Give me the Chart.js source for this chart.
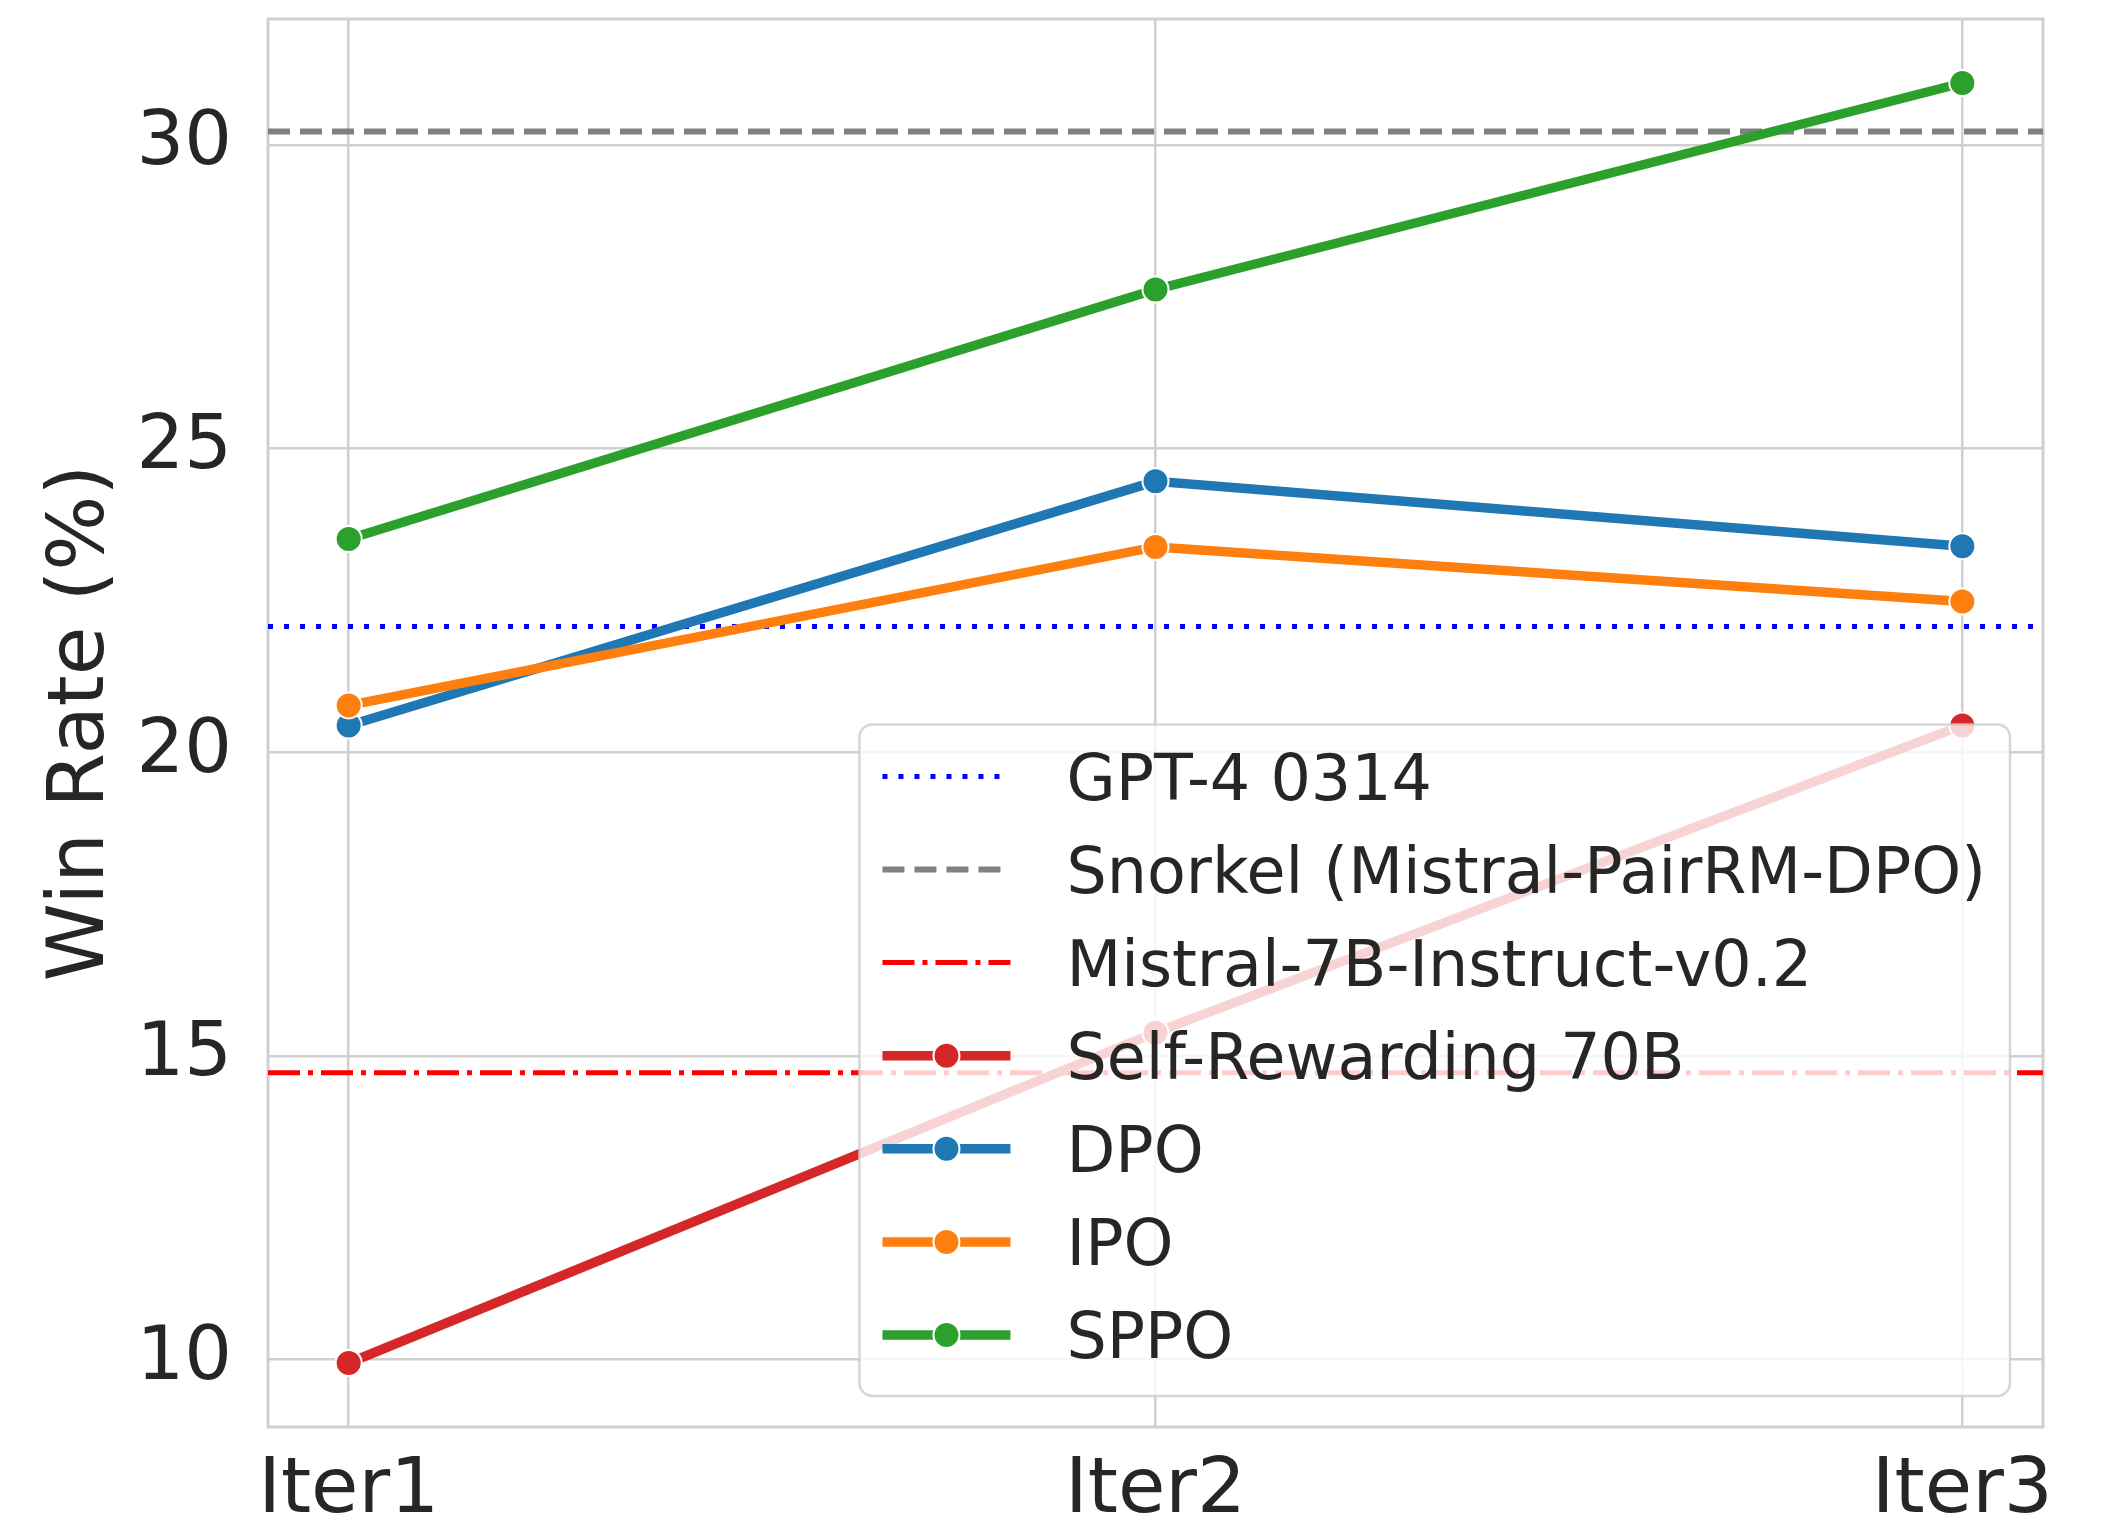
<!DOCTYPE html>
<html>
<head>
<meta charset="utf-8">
<title>Win Rate by Iteration</title>
<script src="https://cdn.jsdelivr.net/npm/chart.js@4.4.1/dist/chart.umd.min.js"></script>
<style>
  html, body { margin: 0; padding: 0; background: #ffffff; }
  canvas { display: block; }
</style>
</head>
<body>
<canvas id="chart" width="2105" height="1524"></canvas>
<script>
// ---- data ----
const categories = ['Iter1', 'Iter2', 'Iter3'];
const seriesNames = ['Self-Rewarding 70B', 'DPO', 'IPO', 'SPPO'];
const selfRewarding = [9.94, 15.38, 20.44];
const dpo = [20.44, 24.46, 23.39];
const ipo = [20.77, 23.38, 22.48];
const sppo = [23.51, 27.62, 31.02];
const baselineNames = ['GPT-4 0314', 'Snorkel (Mistral-PairRM-DPO)', 'Mistral-7B-Instruct-v0.2'];
const baselineValues = [22.07, 30.22, 14.72];
const yTickValues = [10, 15, 20, 25, 30];
const yAxisTitle = 'Win Rate (%)';

// ---- styles ----
const FONT = "'DejaVu Sans', 'Liberation Sans', sans-serif";
const TEXT = '#262626';
const GRID = '#cfcfcf';
const seriesColors = ['#d62728', '#1f77b4', '#ff7f0e', '#2ca02c'];
const baselineStyles = [
  { color: '#0000ff', width: 5, dash: [5, 11] },
  { color: '#808080', width: 6, dash: [22, 10] },
  { color: '#ff0000', width: 5, dash: [32, 8, 5, 8] }
];
const LINE_W = 9.5;
const POINT_R = 13;

const seriesValues = [selfRewarding, dpo, ipo, sppo];

// y range: data extent with a 5% margin on each side
const allValues = seriesValues.flat().concat(baselineValues);
const yLo = Math.min(...allValues), yHi = Math.max(...allValues);
const yPad = (yHi - yLo) * 0.05;
const xPad = (categories.length - 1) * 0.05;

const datasets = seriesNames.map((name, k) => ({
  label: name,
  data: categories.map((c, i) => ({ x: i, y: seriesValues[k][i] })),
  borderColor: seriesColors[k],
  backgroundColor: seriesColors[k],
  pointBackgroundColor: seriesColors[k],
  pointBorderColor: '#ffffff',
  pointBorderWidth: 2,
  pointRadius: POINT_R,
  borderWidth: LINE_W,
  borderCapStyle: 'butt',
  tension: 0,
  order: seriesNames.length - k
}));

// frame and horizontal reference lines, under the series
const referencePlugin = {
  id: 'referenceLines',
  beforeDatasetsDraw(chart) {
    const { ctx, chartArea: a, scales: { y } } = chart;
    ctx.save();
    ctx.strokeStyle = GRID;
    ctx.lineWidth = 3;
    ctx.strokeRect(a.left, a.top, a.right - a.left, a.bottom - a.top);
    baselineValues.forEach((v, k) => {
      const s = baselineStyles[k];
      const py = y.getPixelForValue(v);
      ctx.beginPath();
      ctx.strokeStyle = s.color;
      ctx.lineWidth = s.width;
      ctx.setLineDash(s.dash);
      ctx.lineCap = 'butt';
      ctx.moveTo(a.left, py);
      ctx.lineTo(a.right, py);
      ctx.stroke();
    });
    ctx.restore();
  }
};

// framed legend in the lower right, semi-transparent over the plot
const legendPlugin = {
  id: 'boxLegend',
  afterDraw(chart) {
    const { ctx, chartArea: a } = chart;
    const fontPx = 63.5;
    const rowH = 93.1;
    const padTop = 52, padBottom = 61, padLeft = 23, padRight = 24;
    const handleW = 128, gap = 56;
    const entries = baselineNames.map((n, k) => ({ name: n, type: 'ref', style: baselineStyles[k] }))
      .concat(seriesNames.map((n, k) => ({ name: n, type: 'series', color: seriesColors[k] })));
    ctx.save();
    ctx.font = fontPx + 'px ' + FONT;
    const maxText = Math.max(...entries.map(e => ctx.measureText(e.name).width));
    const w = padLeft + handleW + gap + maxText + padRight;
    const h = padTop + padBottom + rowH * (entries.length - 1);
    const right = a.right - 33, bottom = a.bottom - 31;
    const left = right - w, top = bottom - h;
    ctx.beginPath();
    ctx.roundRect(left, top, w, h, 13);
    ctx.fillStyle = 'rgba(255,255,255,0.8)';
    ctx.fill();
    ctx.strokeStyle = 'rgba(204,204,204,0.8)';
    ctx.lineWidth = 2.5;
    ctx.stroke();
    entries.forEach((e, i) => {
      const cy = top + padTop + i * rowH;
      const hx0 = left + padLeft, hx1 = hx0 + handleW;
      ctx.save();
      ctx.beginPath();
      if (e.type === 'ref') {
        ctx.strokeStyle = e.style.color;
        ctx.lineWidth = e.style.width;
        ctx.setLineDash(e.style.dash);
      } else {
        ctx.strokeStyle = e.color;
        ctx.lineWidth = LINE_W;
      }
      ctx.moveTo(hx0, cy);
      ctx.lineTo(hx1, cy);
      ctx.stroke();
      if (e.type === 'series') {
        ctx.setLineDash([]);
        ctx.beginPath();
        ctx.arc((hx0 + hx1) / 2, cy, POINT_R, 0, Math.PI * 2);
        ctx.fillStyle = e.color;
        ctx.fill();
        ctx.lineWidth = 2;
        ctx.strokeStyle = '#ffffff';
        ctx.stroke();
      }
      ctx.restore();
      ctx.fillStyle = TEXT;
      ctx.textAlign = 'left';
      ctx.textBaseline = 'alphabetic';
      ctx.fillText(e.name, hx1 + gap, cy + fontPx * 0.3645);
    });
    ctx.restore();
  }
};

new Chart(document.getElementById('chart'), {
  type: 'line',
  data: { datasets },
  plugins: [referencePlugin, legendPlugin],
  options: {
    responsive: false,
    animation: false,
    devicePixelRatio: 1,
    layout: { padding: { top: 19, right: 62, bottom: 0, left: 0 } },
    plugins: { legend: { display: false }, tooltip: { enabled: false } },
    scales: {
      x: {
        type: 'linear',
        min: -xPad,
        max: categories.length - 1 + xPad,
        afterBuildTicks: s => { s.ticks = categories.map((c, i) => ({ value: i })); },
        afterFit: s => { s.height = 97; s.paddingLeft = 0; s.paddingRight = 0; },
        ticks: {
          callback: v => categories[v],
          color: TEXT,
          font: { family: FONT, size: 77 },
          padding: 19,
          maxRotation: 0,
          autoSkip: false
        },
        grid: { color: GRID, lineWidth: 2.5, drawTicks: false },
        border: { display: false }
      },
      y: {
        type: 'linear',
        min: yLo - yPad,
        max: yHi + yPad,
        afterBuildTicks: s => { s.ticks = yTickValues.map(v => ({ value: v })); },
        afterFit: s => { s.width = 268; s.paddingTop = 0; s.paddingBottom = 0; },
        ticks: {
          color: TEXT,
          font: { family: FONT, size: 75 },
          padding: 36
        },
        grid: { color: GRID, lineWidth: 2.5, drawTicks: false },
        border: { display: false },
        title: {
          display: true,
          text: yAxisTitle,
          color: TEXT,
          font: { family: FONT, size: 79, lineHeight: 1 },
          padding: { top: 43, bottom: 0 }
        }
      }
    }
  }
});
</script>
</body>
</html>
